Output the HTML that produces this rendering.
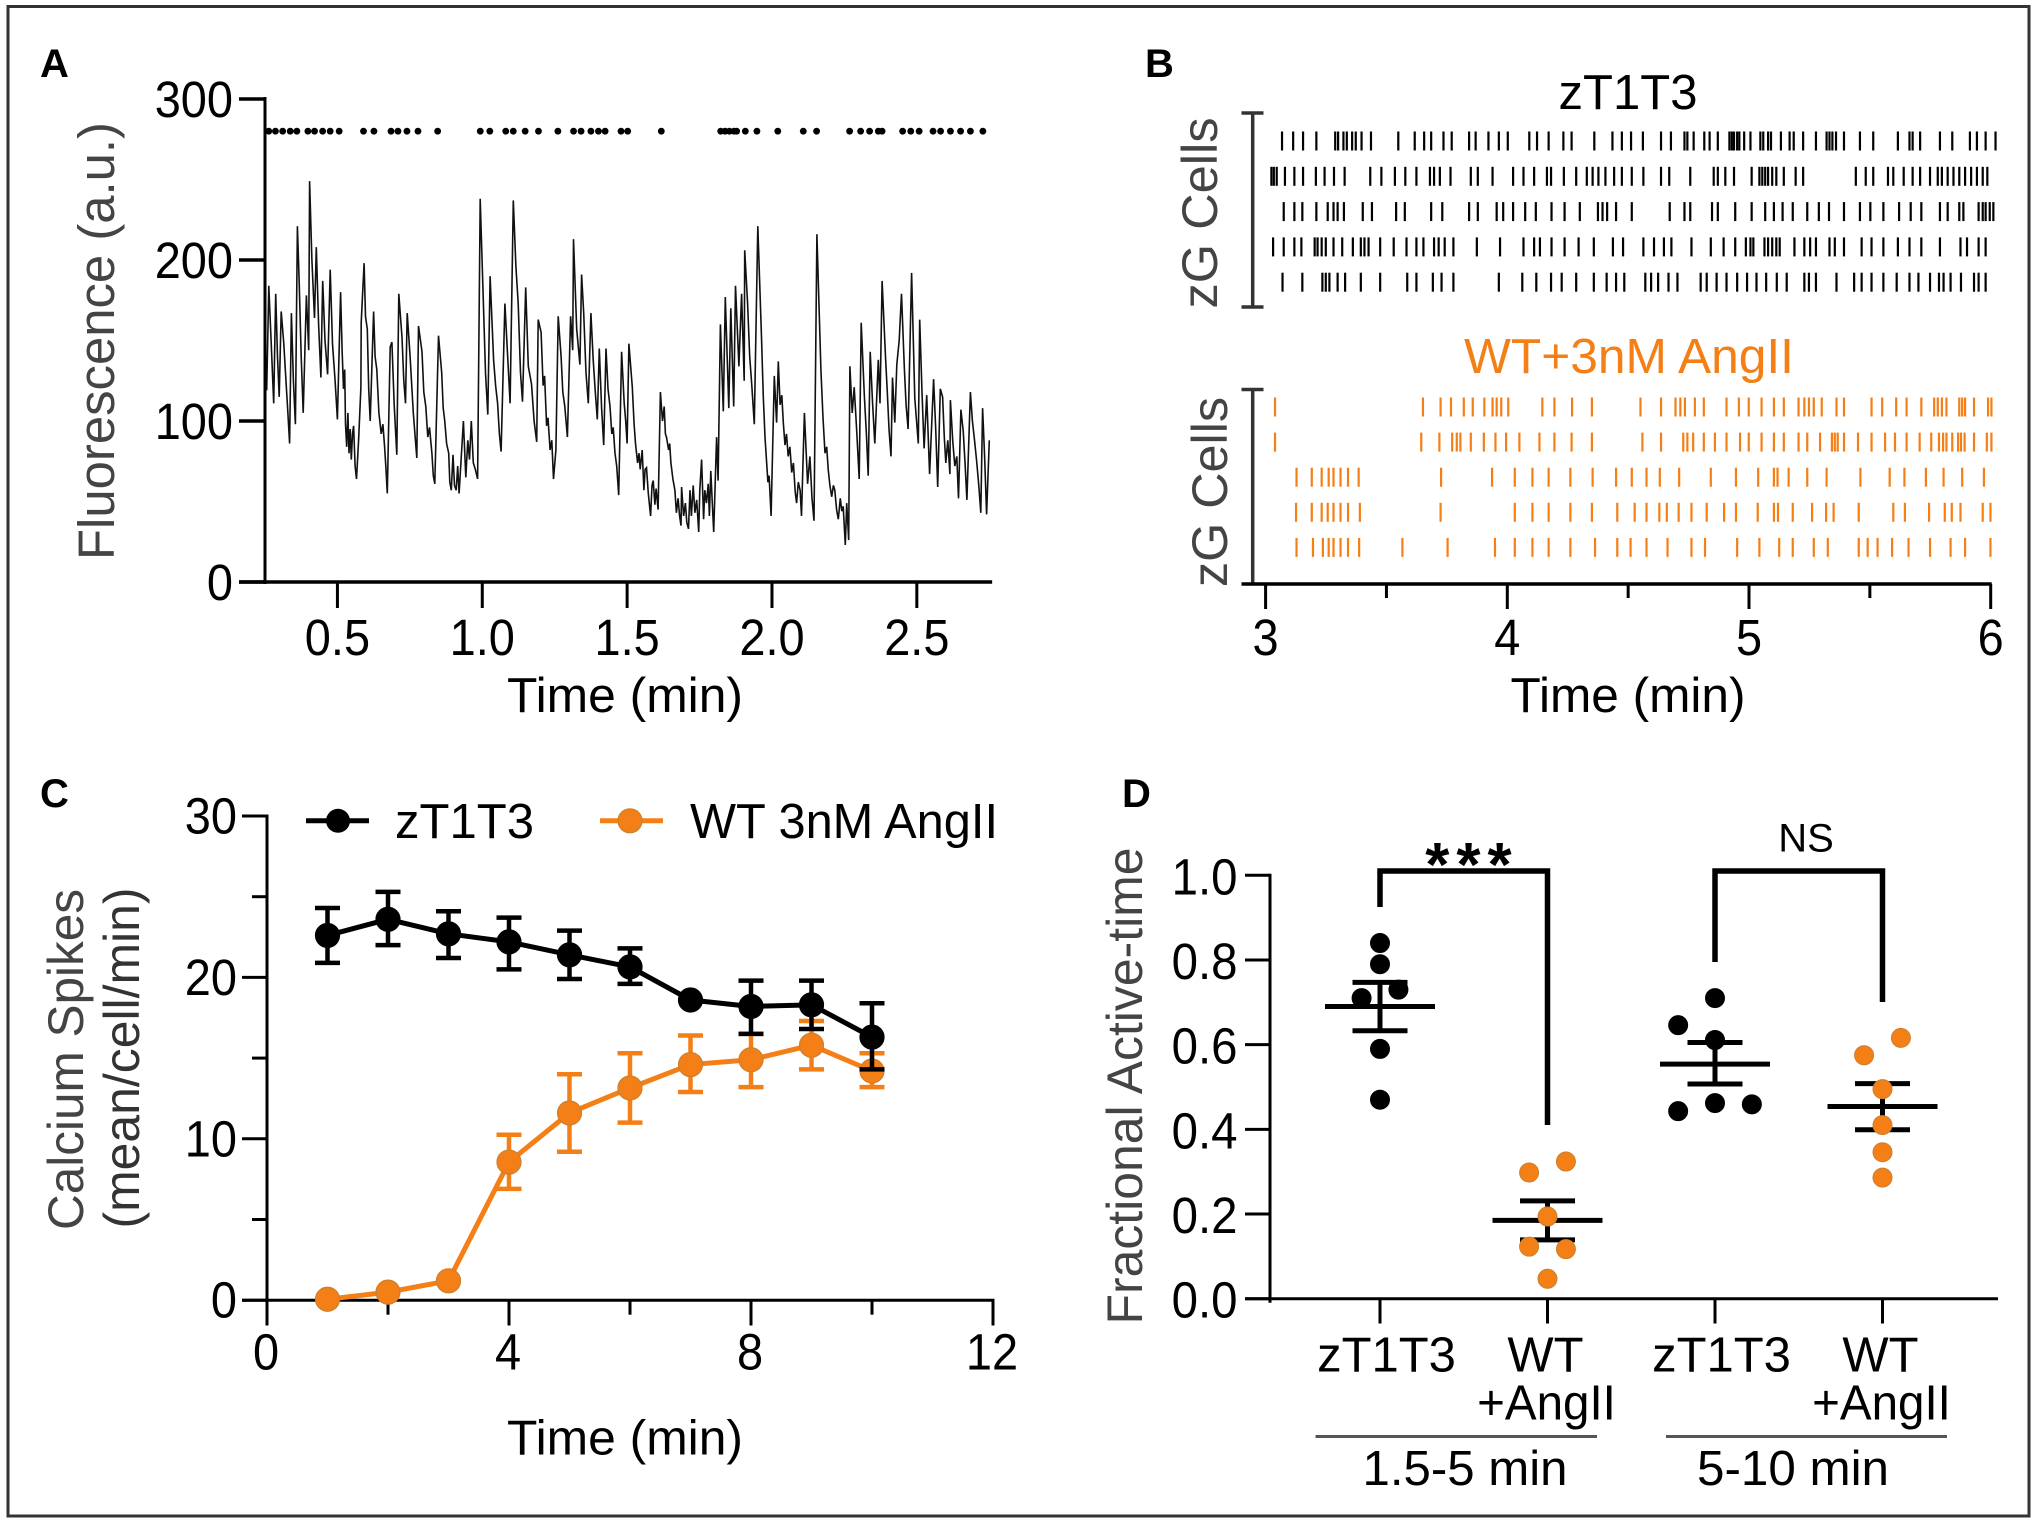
<!DOCTYPE html>
<html lang="en">
<head>
<meta charset="utf-8">
<title>Calcium spikes figure</title>
<style>
html,body{margin:0;padding:0;background:#fff;}
svg{display:block;}
text{font-family:"Liberation Sans",Arial,sans-serif;}
</style>
</head>
<body>
<svg id="fig" xmlns="http://www.w3.org/2000/svg" width="2037" height="1523" viewBox="0 0 2037 1523">
  <rect x="0" y="0" width="2037" height="1523" fill="#fff"/>
  <rect x="8" y="6.5" width="2021" height="1509.5" fill="none" stroke="#333" stroke-width="3"/>

  <text x="40" y="77" font-size="40" font-weight="bold">A</text>
  <text x="1145" y="77" font-size="40" font-weight="bold">B</text>
  <text x="40" y="807" font-size="40" font-weight="bold">C</text>
  <text x="1122" y="807" font-size="40" font-weight="bold">D</text>

  <text transform="translate(114,341) rotate(-90)" text-anchor="middle" font-size="51" fill="#444" textLength="438" lengthAdjust="spacingAndGlyphs">Fluorescence (a.u.)</text>
  <text x="625" y="712" text-anchor="middle" font-size="49" textLength="236" lengthAdjust="spacingAndGlyphs">Time (min)</text>

  <text x="1628" y="109" text-anchor="middle" font-size="49" textLength="139" lengthAdjust="spacingAndGlyphs">zT1T3</text>
  <text x="1629" y="373" text-anchor="middle" font-size="49" fill="#f57f17" textLength="330" lengthAdjust="spacingAndGlyphs">WT+3nM AngII</text>
  <text transform="translate(1217,213) rotate(-90)" text-anchor="middle" font-size="50" fill="#444" textLength="191" lengthAdjust="spacingAndGlyphs">zG Cells</text>
  <text transform="translate(1227,492) rotate(-90)" text-anchor="middle" font-size="50" fill="#444" textLength="190" lengthAdjust="spacingAndGlyphs">zG Cells</text>
  <text x="1628" y="712" text-anchor="middle" font-size="49" textLength="235" lengthAdjust="spacingAndGlyphs">Time (min)</text>

  <text transform="translate(83,1059.5) rotate(-90)" text-anchor="middle" font-size="50" fill="#444" textLength="341" lengthAdjust="spacingAndGlyphs">Calcium Spikes</text>
  <text transform="translate(139,1058) rotate(-90)" text-anchor="middle" font-size="50" fill="#333" textLength="341" lengthAdjust="spacingAndGlyphs">(mean/cell/min)</text>
  <text x="625" y="1454.5" text-anchor="middle" font-size="49" textLength="236" lengthAdjust="spacingAndGlyphs">Time (min)</text>

  <text transform="translate(1142,1086) rotate(-90)" text-anchor="middle" font-size="50" fill="#444" textLength="477" lengthAdjust="spacingAndGlyphs">Fractional Active-time</text>
  <text x="1472" y="886" text-anchor="middle" font-size="62" font-weight="bold" letter-spacing="7">***</text>
  <text x="1806" y="851.5" text-anchor="middle" font-size="40">NS</text>
  <line x1="1315.5" y1="1436.5" x2="1597" y2="1436.5" stroke="#555" stroke-width="3"/>
  <line x1="1666" y1="1436.5" x2="1947" y2="1436.5" stroke="#555" stroke-width="3"/>
  <text x="1465" y="1485" text-anchor="middle" font-size="49" textLength="205" lengthAdjust="spacingAndGlyphs">1.5-5 min</text>
  <text x="1793" y="1485" text-anchor="middle" font-size="49" textLength="192" lengthAdjust="spacingAndGlyphs">5-10 min</text>
</svg>

<script>
const traceSamples = [
[.256,119],[.263,184],[.271,150],[.280,111],[.287,179],[.293,140],[.299,115],[.306,168],[.315,148],[.320,132],[.328,108],[.335,86],[.341,167],[.348,125],[.355,98],[.362,221],[.368,186],[.375,140],[.382,105],[.393,178],[.401,144],[.404,249],[.412,200],[.421,164],[.427,208],[.435,160],[.443,127],[.449,187],[.457,150],[.466,129],[.475,194],[.483,148],[.492,125],[.500,101],
[.511,180],[.516,144],[.521,120],[.525,132],[.528,98],[.532,84],[.536,105],[.540,80],[.544,95],[.548,76],[.552,92],[.556,97],[.561,72],[.566,64],[.573,88],[.581,121],[.582,161],[.592,198],[.597,165],[.603,157],[.608,120],[.613,100],[.625,168],[.630,140],[.636,132],[.643,105],[.651,92],[.657,98],[.663,84],[.667,72],[.672,55],
[.682,146],[.688,149],[.696,110],[.705,79],[.712,179],[.723,152],[.729,125],[.735,111],[.741,167],[.751,140],[.762,105],[.774,77],[.780,159],[.792,143],[.798,118],[.805,109],[.812,90],[.818,96],[.826,80],[.831,66],[.836,61],[.849,153],[.860,130],[.865,108],[.870,101],[.877,86],[.884,80],[.888,62],[.893,57],[.899,79],[.904,60],[.910,57],[.915,72],[.920,55],[.935,100],[.943,65],[.950,88],[.956,76],[.962,100],[.969,74],[.976,70],[.984,64],[.993,238],[1.004,173],[1.011,130],[1.019,104],[1.027,190],[1.039,138],[1.046,122],[1.053,111],[1.059,92],[1.065,81],[1.078,173],
[1.096,111],[1.107,237],[1.116,196],[1.124,173],[1.132,130],[1.139,112],[1.150,183],[1.159,134],[1.170,123],[1.179,100],[1.188,87],[1.193,163],[1.203,155],[1.210,122],[1.215,128],[1.222,97],[1.227,102],[1.234,82],[1.240,88],[1.246,64],[1.254,82],[1.262,165],[1.272,140],[1.278,118],[1.285,109],[1.290,98],[1.294,90],[1.305,165],[1.312,144],[1.315,213],[1.326,157],[1.337,135],[1.343,191],[1.350,167],[1.358,130],[1.366,111],[1.375,167],[1.383,138],[1.390,118],[1.397,101],[1.404,145],[1.412,108],[1.419,85],[1.427,145],[1.434,120],[1.441,109],[1.447,92],[1.452,96],[1.458,80],[1.464,72],[1.471,54],[1.481,143],[1.490,111],[1.495,100],[1.500,86],[1.506,148],[1.518,121],
[1.524,98],[1.529,86],[1.536,74],[1.541,80],[1.545,70],[1.552,82],[1.558,57],[1.562,70],[1.567,71],[1.573,55],[1.581,41],[1.586,60],[1.590,63],[1.596,48],[1.600,58],[1.607,45],[1.615,118],[1.622,100],[1.628,109],[1.632,92],[1.636,90],[1.643,82],[1.647,86],[1.651,74],[1.658,64],
[1.665,57],[1.670,43],[1.676,52],[1.681,41],[1.686,35],[1.688,59],[1.695,41],[1.701,49],[1.706,37],[1.712,33],[1.717,57],[1.722,41],[1.728,60],[1.734,43],[1.740,51],[1.747,31],[1.751,57],[1.757,76],[1.764,39],[1.768,57],[1.774,49],[1.780,61],[1.784,41],[1.789,69],[1.794,49],[1.799,31],
[1.809,90],[1.814,63],[1.822,160],[1.832,106],[1.839,177],[1.851,108],[1.858,170],[1.868,109],[1.874,184],[1.886,134],[1.895,179],[1.904,125],[1.906,206],[1.916,173],[1.923,140],[1.930,123],[1.939,98],[1.951,221],[1.964,152],[1.970,115],[1.976,90],[1.986,62],[1.990,66],[1.997,41],[2.008,128],[2.016,99],[2.022,137],[2.028,110],[2.034,116],[2.039,99],[2.045,85],[2.050,92],[2.056,78],[2.062,84],[2.068,68],[2.074,74],[2.080,56],[2.085,49],[2.091,62],[2.097,57],[2.102,41],[2.112,105],[2.123,61],[2.131,78],[2.138,52],[2.145,38],[2.155,216],[2.169,132],[2.176,102],[2.183,80],[2.189,84],[2.194,70],[2.200,60],[2.206,53],[2.212,60],[2.217,57],[2.223,45],[2.229,39],[2.236,52],[2.241,44],[2.246,47],[2.253,23],[2.258,49],[2.265,26],
[2.269,134],[2.277,105],[2.284,121],[2.292,95],[2.301,64],[2.308,161],[2.319,115],[2.326,92],[2.332,66],[2.339,143],[2.347,112],[2.355,86],[2.367,138],[2.373,111],[2.380,187],[2.392,140],[2.398,118],[2.404,95],[2.411,78],[2.416,127],[2.424,99],[2.431,135],[2.439,150],[2.447,179],[2.457,132],[2.463,110],[2.470,95],[2.482,192],[2.493,114],[2.505,86],[2.510,163],[2.518,118],[2.525,83],[2.534,116],[2.544,67],[2.558,126],[2.565,95],[2.572,59],[2.581,120],[2.589,115],[2.595,90],[2.600,74],[2.607,88],[2.614,67],[2.616,113],[2.624,88],[2.631,72],[2.638,78],[2.644,52],[2.652,107],[2.660,94],[2.667,72],[2.673,51],[2.685,118],[2.692,100],[2.698,90],[2.706,76],[2.714,60],[2.721,43],[2.727,108],[2.734,78],[2.741,42],[2.750,88]
];
const spikeTimes = [.263,.286,.311,.337,.360,.398,.421,.449,.475,.506,.590,.626,.685,.709,.740,.778,.846,.993,1.026,1.081,1.107,1.148,1.194,1.261,1.315,1.341,1.375,1.401,1.424,1.479,1.502,1.618,1.823,1.838,1.853,1.869,1.878,1.908,1.948,2.020,2.108,2.154,2.268,2.306,2.337,2.367,2.380,2.451,2.479,2.508,2.556,2.582,2.616,2.651,2.685,2.728];
const spikeLevel = 280;
const panelAYTicks = [0,100,200,300];
const panelAXTicks = [0.5,1.0,1.5,2.0,2.5];

const rasterTopRow1 = [3.068,3.114,3.155,3.210,3.288,3.300,3.322,3.336,3.358,3.373,3.397,3.436,3.549,3.617,3.656,3.685,3.736,3.770,3.842,3.869,3.922,3.965,4.002,4.091,4.123,4.171,4.232,4.266,4.360,4.435,4.474,4.512,4.561,4.636,4.677,4.733,4.745,4.771,4.815,4.837,4.871,4.919,4.929,4.938,4.951,4.960,4.980,5.006,5.047,5.059,5.079,5.091,5.132,5.168,5.185,5.224,5.277,5.321,5.333,5.345,5.360,5.393,5.459,5.514,5.616,5.664,5.677,5.708,5.790,5.841,5.914,5.943,5.979,6.020];
const rasterTopRow2 = [3.024,3.034,3.046,3.080,3.119,3.155,3.208,3.244,3.283,3.327,3.433,3.479,3.535,3.578,3.624,3.680,3.697,3.721,3.765,3.849,3.878,3.939,4.024,4.067,4.111,4.164,4.181,4.234,4.285,4.329,4.353,4.377,4.406,4.442,4.474,4.515,4.563,4.636,4.670,4.757,4.854,4.871,4.902,4.938,5.011,5.043,5.055,5.067,5.079,5.096,5.113,5.144,5.193,5.224,5.442,5.483,5.514,5.575,5.597,5.640,5.677,5.708,5.749,5.781,5.798,5.822,5.846,5.870,5.894,5.919,5.943,5.967,5.986];
const rasterTopRow3 = [3.075,3.119,3.152,3.210,3.257,3.281,3.298,3.324,3.402,3.440,3.540,3.576,3.685,3.731,3.842,3.878,3.956,3.983,4.024,4.074,4.118,4.183,4.237,4.300,4.375,4.394,4.413,4.450,4.515,4.672,4.733,4.757,4.847,4.871,4.943,5.011,5.067,5.103,5.139,5.181,5.241,5.289,5.331,5.393,5.459,5.502,5.556,5.621,5.669,5.713,5.790,5.822,5.870,5.887,5.950,5.967,5.979,5.996,6.011];
const rasterTopRow4 = [3.031,3.075,3.119,3.148,3.203,3.215,3.232,3.249,3.281,3.317,3.361,3.394,3.409,3.426,3.474,3.530,3.583,3.624,3.653,3.697,3.716,3.741,3.777,3.874,3.970,4.067,4.111,4.135,4.183,4.237,4.295,4.358,4.437,4.479,4.563,4.607,4.648,4.679,4.762,4.842,4.895,4.943,4.987,5.006,5.018,5.064,5.079,5.096,5.113,5.127,5.188,5.229,5.253,5.277,5.333,5.355,5.393,5.466,5.507,5.556,5.616,5.664,5.713,5.790,5.875,5.902,5.950,5.979];
const rasterTopRow5 = [3.070,3.152,3.235,3.249,3.264,3.298,3.329,3.394,3.474,3.586,3.624,3.692,3.728,3.777,3.965,4.062,4.120,4.181,4.225,4.285,4.358,4.411,4.450,4.484,4.571,4.595,4.624,4.667,4.704,4.800,4.825,4.866,4.907,4.951,4.992,5.031,5.071,5.115,5.156,5.229,5.248,5.277,5.362,5.435,5.466,5.507,5.556,5.611,5.664,5.701,5.749,5.786,5.805,5.834,5.877,5.931,5.950,5.979];

const rasterBottomRow1 = [3.039,3.651,3.724,3.767,3.820,3.857,3.905,3.939,3.956,3.975,4.004,4.145,4.195,4.268,4.350,4.551,4.636,4.696,4.716,4.735,4.776,4.813,4.907,4.958,4.999,5.052,5.103,5.144,5.205,5.229,5.248,5.268,5.301,5.362,5.393,5.507,5.551,5.609,5.652,5.713,5.766,5.781,5.798,5.817,5.870,5.882,5.894,5.931,5.989,6.003];
const rasterBottomRow2 = [3.039,3.644,3.719,3.772,3.791,3.806,3.849,3.903,3.951,3.995,4.050,4.133,4.195,4.266,4.350,4.559,4.636,4.728,4.745,4.769,4.813,4.859,4.907,4.963,4.999,5.052,5.103,5.144,5.205,5.241,5.294,5.343,5.355,5.367,5.393,5.451,5.507,5.563,5.604,5.652,5.706,5.754,5.786,5.803,5.817,5.841,5.865,5.877,5.892,5.931,5.984,6.003];
const rasterBottomRow3 = [3.128,3.191,3.232,3.261,3.281,3.310,3.341,3.385,3.726,3.937,4.031,4.104,4.171,4.261,4.353,4.450,4.515,4.576,4.631,4.711,4.842,4.946,5.038,5.103,5.118,5.164,5.241,5.321,5.461,5.582,5.643,5.732,5.805,5.882,5.972];
const rasterBottomRow4 = [3.126,3.191,3.232,3.257,3.281,3.310,3.341,3.390,3.724,4.031,4.104,4.171,4.261,4.350,4.455,4.527,4.576,4.629,4.660,4.709,4.762,4.825,4.897,4.946,5.036,5.103,5.120,5.181,5.261,5.319,5.350,5.454,5.597,5.645,5.745,5.810,5.839,5.875,5.967,5.999];
const rasterBottomRow5 = [3.128,3.196,3.237,3.261,3.281,3.310,3.341,3.387,3.566,3.753,3.949,4.031,4.104,4.171,4.261,4.363,4.455,4.510,4.576,4.663,4.762,4.818,4.951,5.043,5.125,5.181,5.268,5.326,5.454,5.491,5.532,5.592,5.660,5.749,5.834,5.894,5.999];
const rasterMajorTicks = [3,4,5,6];
const rasterMinorTicks = [3.5,4.5,5.5];

const spikeMinutes = [1,2,3,4,5,6,7,8,9,10];
const zt1t3Mean = [22.6,23.6,22.7,22.2,21.4,20.65,18.6,18.2,18.3,16.3];
const zt1t3Upper = [24.3,25.3,24.1,23.7,22.9,21.8,null,19.8,19.8,18.4];
const zt1t3Lower = [20.9,22.0,21.2,20.5,19.9,19.6,null,16.5,16.8,14.3];
const angMean = [0.06,0.5,1.2,8.56,11.6,13.15,14.6,14.9,15.8,14.2];
const angUpper = [null,null,null,10.25,14.0,15.3,16.4,16.5,17.3,15.3];
const angLower = [null,null,null,6.9,9.2,11.0,12.9,13.2,14.3,13.2];
const panelCYMajor = [0,10,20,30];
const panelCYMinor = [5,15,25];
const panelCXMajor = [0,4,8,12];
const panelCXMinor = [2,6,10];

const scatterCategories = ["zT1T3 early","WT+AngII early","zT1T3 late","WT+AngII late"];
const scatterFill = ["black","orange","black","orange"];
const scatterValues = [
  [.84,.79,.73,.71,.59,.47],
  [.324,.298,.194,.123,.117,.047],
  [.71,.646,.611,.462,.459,.443],
  [.616,.575,.495,.41,.346,.286]
];
const scatterJitter = [
  [0,0,.11,-.11,0,0],
  [.11,-.11,0,-.11,.11,0],
  [0,-.22,0,0,.22,-.22],
  [.11,-.11,0,0,0,0]
];
const scatterMean = [.69,.185,.554,.454];
const scatterSemHigh = [.747,.231,.605,.508];
const scatterSemLow = [.633,.139,.507,.399];
const panelDYTicks = [0,0.2,0.4,0.6,0.8,1.0];
const panelDLabelsTop = ["zT1T3","WT","zT1T3","WT"];
const panelDLabelsBottom = ["","+AngII","","+AngII"];

const SVGNS = "http://www.w3.org/2000/svg";
const root = document.getElementById("fig");
function mk(tag, attrs){
  const e = document.createElementNS(SVGNS, tag);
  for (const k in attrs) e.setAttribute(k, attrs[k]);
  root.appendChild(e);
  return e;
}
function label(str, x, y, anchor, sx, size){
  const e = mk("text", {transform:"translate("+x+","+y+") scale("+sx+",1)", "text-anchor":anchor, "font-size":size});
  e.textContent = str;
  return e;
}
const ORANGE = "#f57f17";
const ORANGE_EDGE = "#c9802e";

/* ---------- Panel A ---------- */
const ax = t => 265 + (t - 0.25) * 289.7;
const ay = v => 582 - v * 1.61;
const tracePts = traceSamples.map(s => ax(s[0]).toFixed(1) + "," + ay(s[1]).toFixed(1)).join(" ");
const traceLine = mk("polyline", {points:tracePts, fill:"none", stroke:"#111", "stroke-width":1.6, "stroke-linejoin":"miter"});


spikeTimes.forEach(t => {
  const d = mk("circle", {cx:ax(t), cy:ay(spikeLevel), r:3.4, fill:"#000"});
  
  
});
const aYAxis = mk("line", {x1:ax(0.25), x2:ax(0.25), y1:ay(300)-2, y2:ay(0)+2, stroke:"#000", "stroke-width":3});


const aXAxis = mk("line", {x1:239, x2:ax(2.76), y1:ay(0), y2:ay(0), stroke:"#000", "stroke-width":3.5});


panelAYTicks.forEach(v => {
  const tk = mk("line", {x1:239, x2:ax(0.25), y1:ay(v), y2:ay(v), stroke:"#000", "stroke-width":3.5});
  
  
  const lb = label(String(v), 233, ay(v)+18, "end", 0.92, 51);
  
  
});
panelAXTicks.forEach(v => {
  const tk = mk("line", {x1:ax(v), x2:ax(v), y1:ay(0), y2:608, stroke:"#000", "stroke-width":3});
  
  
  const lb = label(v.toFixed(1), ax(v), 655, "middle", 0.92, 51);
  
  
});

/* ---------- Panel B ---------- */
const bx = t => 1265.6 + (t - 3) * 241.7;
const rasterTop = [rasterTopRow1,rasterTopRow2,rasterTopRow3,rasterTopRow4,rasterTopRow5];
const rasterBottom = [rasterBottomRow1,rasterBottomRow2,rasterBottomRow3,rasterBottomRow4,rasterBottomRow5];
const topRowY = i => 141 + i * 35.3;
const bottomRowY = i => 407 + i * 35.1;
rasterTop.forEach((row,i) => row.forEach(t => {
  const m = mk("line", {x1:bx(t), x2:bx(t), y1:topRowY(i)-9.5, y2:topRowY(i)+9.5, stroke:"#000", "stroke-width":2.2});
  
  
}));
rasterBottom.forEach((row,i) => row.forEach(t => {
  const m = mk("line", {x1:bx(t), x2:bx(t), y1:bottomRowY(i)-9.5, y2:bottomRowY(i)+9.5, stroke:ORANGE, "stroke-width":2.2});
  
  
}));
const bTopAxis = mk("path", {d:"M1241.5 113H1263.5M1252.7 113V307M1241.5 307H1263.5", fill:"none", stroke:"#333", "stroke-width":3.5});


const bBottomAxis = mk("path", {d:"M1241.5 389.5H1263.5M1252.7 389.5V584", fill:"none", stroke:"#333", "stroke-width":3.5});


const bXAxis = mk("line", {x1:1241.5, x2:bx(6)+1, y1:584, y2:584, stroke:"#000", "stroke-width":3.5});


rasterMajorTicks.forEach(v => {
  const tk = mk("line", {x1:bx(v), x2:bx(v), y1:584, y2:609, stroke:"#000", "stroke-width":3});
  
  
  const lb = label(String(v), bx(v), 655, "middle", 0.92, 51);
  
  
});
rasterMinorTicks.forEach(v => {
  const tk = mk("line", {x1:bx(v), x2:bx(v), y1:584, y2:598, stroke:"#000", "stroke-width":3});
  
  
});

/* ---------- Panel C ---------- */
const cx = t => 267 + t * 60.5;
const cy = v => 1300.2 - v * 16.14;
const cAxisY = mk("line", {x1:cx(0), x2:cx(0), y1:cy(30)-1.5, y2:1325.5, stroke:"#000", "stroke-width":3});


const cAxisX = mk("line", {x1:242, x2:cx(12)+1.5, y1:cy(0), y2:cy(0), stroke:"#000", "stroke-width":3});


panelCYMajor.forEach(v => {
  const tk = mk("line", {x1:242, x2:cx(0), y1:cy(v), y2:cy(v), stroke:"#000", "stroke-width":3});
  
  
  const lb = label(String(v), 237, cy(v)+17.5, "end", 0.92, 51);
  
  
});
panelCYMinor.forEach(v => {
  const tk = mk("line", {x1:252, x2:cx(0), y1:cy(v), y2:cy(v), stroke:"#000", "stroke-width":3});
  
  
});
panelCXMajor.forEach(v => {
  const tk = mk("line", {x1:cx(v), x2:cx(v), y1:cy(0), y2:1325.5, stroke:"#000", "stroke-width":3});
  
  
  const lb = label(String(v), cx(v)-1, 1369.7, "middle", 0.92, 51);
  
  
});
panelCXMinor.forEach(v => {
  const tk = mk("line", {x1:cx(v), x2:cx(v), y1:cy(0), y2:1314.7, stroke:"#000", "stroke-width":3});
  
  
});
function drawSeries(means, upper, lower, stroke, fill, edge, nameBase){
  const pts = spikeMinutes.map((m,i) => cx(m) + "," + cy(means[i])).join(" ");
  const ln = mk("polyline", {points:pts, fill:"none", stroke:stroke, "stroke-width":5, "stroke-linejoin":"round"});
  
  
  spikeMinutes.forEach((m,i) => {
    if (upper[i] !== null) {
      const eb = mk("path", {d:"M"+(cx(m)-12.5)+" "+cy(upper[i])+"H"+(cx(m)+12.5)+"M"+cx(m)+" "+cy(upper[i])+"V"+cy(lower[i])+"M"+(cx(m)-12.5)+" "+cy(lower[i])+"H"+(cx(m)+12.5), fill:"none", stroke:stroke, "stroke-width":4.5});
      
      
    }
    const p = mk("circle", {cx:cx(m), cy:cy(means[i]), r:12, fill:fill, stroke:edge, "stroke-width":1.2});
    
    
  });
}
drawSeries(angMean, angUpper, angLower, ORANGE, ORANGE, ORANGE_EDGE, 'wt-angii');
drawSeries(zt1t3Mean, zt1t3Upper, zt1t3Lower, "#000", "#000", "#000", 'zt1t3');
const legLine1 = mk("line", {x1:306, x2:369, y1:820.8, y2:820.8, stroke:"#000", "stroke-width":5});


const legDot1 = mk("circle", {cx:338, cy:820.8, r:12, fill:"#000"});


const legText1 = mk("text", {x:395, y:838, "font-size":49, textLength:139, lengthAdjust:"spacingAndGlyphs"});
legText1.textContent = "zT1T3";


const legLine2 = mk("line", {x1:600, x2:663, y1:820.8, y2:820.8, stroke:ORANGE, "stroke-width":5});


const legDot2 = mk("circle", {cx:630, cy:820.8, r:12, fill:ORANGE, stroke:ORANGE_EDGE, "stroke-width":1.2});


const legText2 = mk("text", {x:690, y:838, "font-size":49, textLength:308, lengthAdjust:"spacingAndGlyphs"});
legText2.textContent = "WT 3nM AngII";



/* ---------- Panel D ---------- */
const dx = c => 1380 + c * 167.5;
const dy = v => 1298.7 - v * 423.4;
const dAxisY = mk("line", {x1:1270, x2:1270, y1:dy(1)-1.5, y2:dy(0)+4, stroke:"#000", "stroke-width":3});


const dAxisX = mk("line", {x1:1245, x2:1998, y1:dy(0), y2:dy(0), stroke:"#000", "stroke-width":3});


panelDYTicks.forEach(v => {
  const tk = mk("line", {x1:1245, x2:1270, y1:dy(v), y2:dy(v), stroke:"#000", "stroke-width":3});
  
  
  const lb = label(v.toFixed(1), 1237.5, dy(v)+19, "end", 0.93, 51);
  
  
});
scatterCategories.forEach((c,i) => {
  const tk = mk("line", {x1:dx(i), x2:dx(i), y1:dy(0), y2:1323.5, stroke:"#000", "stroke-width":3});
  
  
  const lb = label(panelDLabelsTop[i], dx(i) + (i % 2 === 0 ? 6.5 : -2), 1371.7, "middle", 1, 49);
  
  
  if (panelDLabelsBottom[i]) {
    const lb2 = label(panelDLabelsBottom[i], dx(i)-1, 1419.4, "middle", 0.97, 49);
    
    
  }
  const meanBar = mk("line", {x1:dx(i)-55, x2:dx(i)+55, y1:dy(scatterMean[i]), y2:dy(scatterMean[i]), stroke:"#000", "stroke-width":5});
  
  
  const sem = mk("path", {d:"M"+(dx(i)-27.5)+" "+dy(scatterSemHigh[i])+"H"+(dx(i)+27.5)+"M"+dx(i)+" "+dy(scatterSemHigh[i])+"V"+dy(scatterSemLow[i])+"M"+(dx(i)-27.5)+" "+dy(scatterSemLow[i])+"H"+(dx(i)+27.5), fill:"none", stroke:"#000", "stroke-width":5});
  
  
  scatterValues[i].forEach((v,j) => {
    const isOrange = scatterFill[i] === "orange";
    const p = mk("circle", {cx:dx(i + scatterJitter[i][j]), cy:dy(v), r:9.5, fill:isOrange ? ORANGE : "#000", stroke:isOrange ? ORANGE_EDGE : "#000", "stroke-width":1});
    
    
  });
});
const bracket1 = mk("path", {d:"M1380 907V871H1547.5V1125", fill:"none", stroke:"#000", "stroke-width":5.5});


const bracket2 = mk("path", {d:"M1715 962V871H1882.5V1002", fill:"none", stroke:"#000", "stroke-width":5.5});


</script>
</body>
</html>
